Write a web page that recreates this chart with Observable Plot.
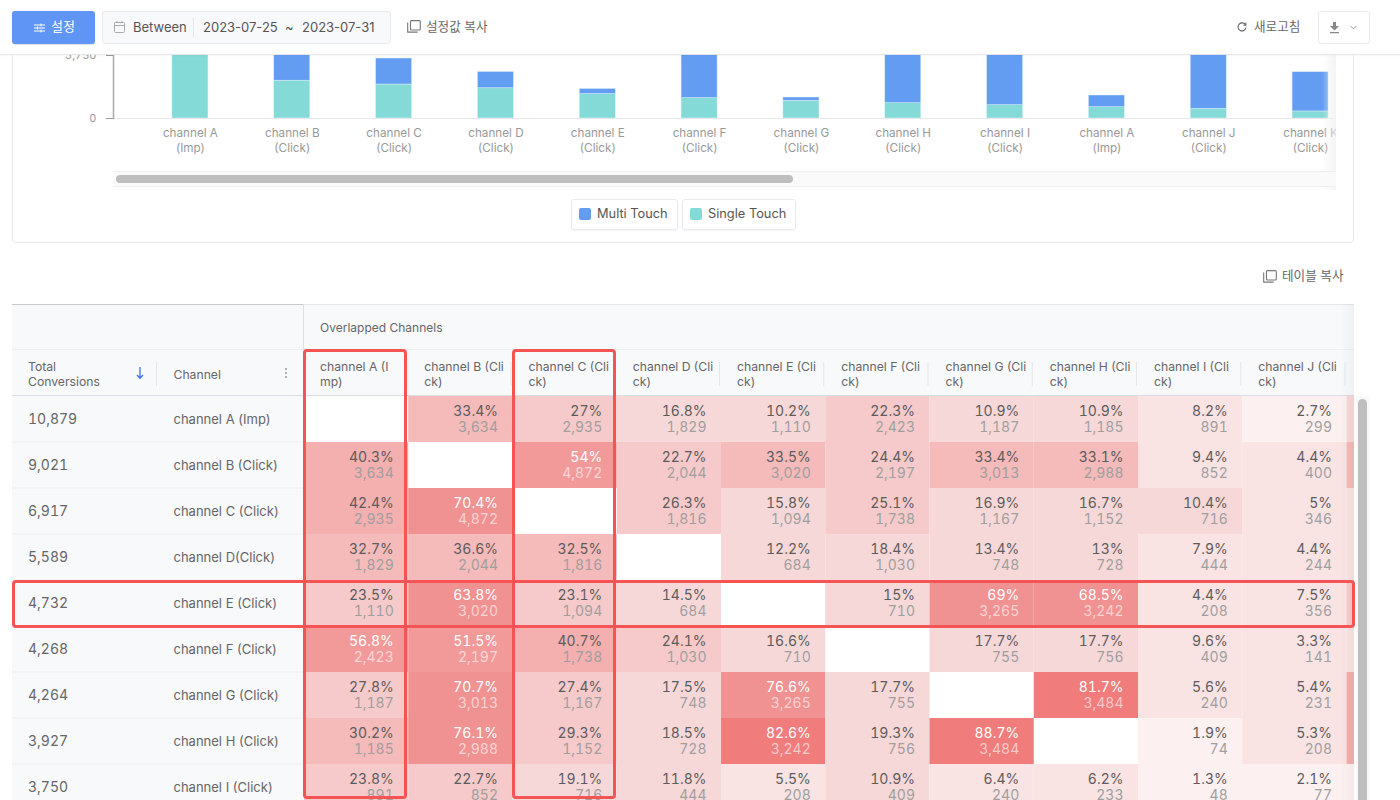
<!DOCTYPE html>
<html lang="ko"><head><meta charset="utf-8">
<script src="https://cdn.jsdelivr.net/npm/d3@7"></script>
<script src="https://cdn.jsdelivr.net/npm/@observablehq/plot@0.6"></script>
<style>
html,body{margin:0;padding:0;background:#fff}
body{font-family:Inter,"Noto Sans CJK KR",sans-serif;color:#555}
#page{position:relative;width:1400px;height:800px;overflow:hidden;background:#fff}
.abs{position:absolute}
svg{background:transparent!important;display:block;overflow:visible;max-width:none!important;height:auto}
#bar{left:0;top:0;width:1336px;height:170px;overflow:hidden}
#heat{left:304px;top:304px;width:1050px;height:496px;overflow:hidden}
#side{left:12px;top:304px;width:292px;height:496px;overflow:hidden}
.frame{position:absolute;box-sizing:border-box;border:3px solid #F55454;border-radius:4px;z-index:5}
.t{position:absolute;white-space:nowrap}
</style></head><body>
<div id="page">
  <div class="abs" style="left:12px;top:20px;width:1342px;height:223px;box-sizing:border-box;border:1px solid #e6e8ec;border-radius:4px"></div>
  <div class="abs" id="bar"></div>
  <div class="abs" style="left:1322px;top:55px;width:14px;height:135px;background:linear-gradient(to right,rgba(255,255,255,0),rgba(240,240,240,.75))"></div>
  <div class="abs" style="left:113px;top:171px;width:1223px;height:14px;background:#fafafa;border-top:1px solid #efefef;border-bottom:1px solid #efefef"></div>
  <div class="abs" style="left:116px;top:175px;width:677px;height:8px;background:#bebebe;border-radius:4px"></div>

  <div class="abs" style="left:571px;top:199px;width:105px;height:29px;border:1px solid #e8eaee;border-radius:3px;box-shadow:0 1px 2px rgba(0,0,0,.05)"></div>
  <div class="abs" style="left:579px;top:208px;width:12px;height:12px;border-radius:2px;background:#639DF2"></div>
  <div class="t" style="left:597px;top:206px;font-size:12.800px;line-height:16px">Multi Touch</div>
  <div class="abs" style="left:682px;top:199px;width:112px;height:29px;border:1px solid #e8eaee;border-radius:3px;box-shadow:0 1px 2px rgba(0,0,0,.05)"></div>
  <div class="abs" style="left:690px;top:208px;width:12px;height:12px;border-radius:2px;background:#84DAD6"></div>
  <div class="t" style="left:708px;top:206px;font-size:12.800px;line-height:16px">Single Touch</div>

  <svg class="abs" style="left:1263px;top:270px" width="14" height="13" viewBox="0 0 14 13" fill="none" stroke="#777" stroke-width="1.1"><rect x="3.5" y=".6" width="9.8" height="9.4" rx="1"/><path d="M.7 2.5v9.6h10"/></svg>
  <div class="t" style="left:1282px;top:268px;font-size:12.600px;line-height:16px;color:#666">테이블 복사</div>

  <!-- table header backdrop -->
  <div class="abs" style="left:12px;top:304px;width:1342px;height:92px;background:#f8f9fb;box-sizing:border-box;border-top:1.5px solid #e4e6ea;border-bottom:1px solid #d8dde3"></div>
  <div class="abs" style="left:12px;top:303.500px;width:292px;height:1.500px;background:#c9c9c9"></div>
  <div class="abs" style="left:12px;top:349px;width:1342px;height:1px;background:#eef0f3"></div>
  <div class="abs" style="left:303px;top:304px;width:1px;height:46px;background:#dcdfe3"></div>
  <div class="abs" style="left:303px;top:362px;width:1051px;height:24px;background-image:linear-gradient(to right,transparent calc(100% - 1px),#e4e6ea 0);background-size:104.25px 24px"></div>
  <div class="abs" style="left:156px;top:362px;width:1px;height:24px;background:#e4e6ea"></div>
  <div class="t" style="left:320px;top:320px;font-size:12px;line-height:15px;color:#666">Overlapped Channels</div>
  <div class="abs" id="side"></div>
  <div class="abs" id="heat"></div>
  <svg class="abs" style="left:135px;top:366px;z-index:2" width="10" height="14" viewBox="0 0 10 14" fill="none" stroke="#3B74E8" stroke-width="1.3"><path d="M5 1v11M2 9l3 3.2L8 9"/></svg>
  <svg class="abs" style="left:284px;top:367px;z-index:2" width="4" height="12" viewBox="0 0 4 12" fill="#999"><circle cx="2" cy="2" r="1"/><circle cx="2" cy="6" r="1"/><circle cx="2" cy="10" r="1"/></svg>
  <div class="abs" style="left:1340px;top:304px;width:14px;height:496px;background:linear-gradient(to right,rgba(0,0,0,0),rgba(0,0,0,.035));z-index:3"></div>

  <div class="abs" style="left:1356px;top:396px;width:14px;height:404px;background:#f9f9f9"></div>
  <div class="abs" style="left:1358px;top:399px;width:9px;height:420px;background:#bebebe;border-radius:5px"></div>

  <div class="frame" style="left:303px;top:349px;width:104px;height:450px"></div>
  <div class="frame" style="left:512px;top:349px;width:104px;height:450px"></div>
  <div class="frame" style="left:12px;top:580px;width:1343px;height:48px"></div>

  <!-- top bar -->
  <div class="abs" style="left:0;top:0;width:1400px;height:55px;background:#fff;border-bottom:1px solid #e4e6ea;box-sizing:border-box;z-index:10;box-shadow:0 1px 2px rgba(0,0,0,.03)">
    <div class="abs" style="left:12px;top:11px;width:83px;height:33px;border-radius:3px;background:#5F95F5;box-shadow:0 1px 1px rgba(0,0,0,.12)"></div>
    <svg class="abs" style="left:34px;top:23px" width="11" height="10" viewBox="0 0 11 10" stroke="#fff" stroke-width="1" fill="none"><path d="M0 2h11M0 5h11M0 8h11M7 .5v3M3.500 3.500v3M7 6.500v3"/></svg>
    <div class="t" style="left:51px;top:18px;font-size:13px;line-height:17px;color:#fff">설정</div>
    <div class="abs" style="left:102px;top:11px;width:289px;height:33px;box-sizing:border-box;border:1px solid #e8eaee;border-radius:3px;background:#f8f9fb"></div>
    <svg class="abs" style="left:114px;top:21px" width="11" height="12" viewBox="0 0 11 12" fill="none" stroke="#aaa"><rect x=".5" y="1.500" width="10" height="10" rx="1"/><path d="M.5 4.500h10M3 0v2M8 0v2"/></svg>
    <div class="t" style="left:133px;top:19px;font-size:13px;line-height:17px">Between</div>
    <div class="abs" style="left:193px;top:18px;width:1px;height:19px;background:#e4e6ea"></div>
    <div class="t" style="left:203px;top:19px;font-size:13px;line-height:17px">2023-07-25</div>
    <div class="t" style="left:285px;top:19px;font-size:13px;line-height:17px">~</div>
    <div class="t" style="left:302px;top:19px;font-size:13px;line-height:17px">2023-07-31</div>
    <svg class="abs" style="left:407px;top:20px" width="14" height="13" viewBox="0 0 14 13" fill="none" stroke="#777" stroke-width="1.1"><rect x="3.500" y=".6" width="9.800" height="9.400" rx="1"/><path d="M.7 2.500v9.600h10"/></svg>
    <div class="t" style="left:426px;top:19px;font-size:12.600px;line-height:16px;color:#666">설정값 복사</div>
    <svg class="abs" style="left:1237px;top:22px" width="10" height="10" viewBox="0 0 10 10" fill="none" stroke="#666" stroke-width="1.1"><path d="M8.600 3A4 4 0 1 0 9 5.500M8.800 .8V3.200H6.400"/></svg>
    <div class="t" style="left:1254px;top:19px;font-size:12.600px;line-height:16px;color:#666">새로고침</div>
    <div class="abs" style="left:1318px;top:11px;width:52px;height:33px;box-sizing:border-box;border:1px solid #e8eaee;border-radius:3px;background:#fff"></div>
    <svg class="abs" style="left:1329px;top:22px" width="11" height="12" viewBox="0 0 11 12" fill="#888"><path d="M4 0h3v4h3L5.500 8.500 1 4h3zM1 10h9v1.300H1z"/></svg>
    <svg class="abs" style="left:1350px;top:25px" width="7" height="5" viewBox="0 0 7 5" fill="none" stroke="#999"><path d="M.5 .8L3.500 3.800 6.500 .8"/></svg>
  </div>
</div>
<script>
const fontFamily = 'Inter,"Noto Sans CJK KR",sans-serif';

// ---- stacked bar chart ----
const barLabels = ["channel A\n(Imp)","channel B\n(Click)","channel C\n(Click)","channel D\n(Click)","channel E\n(Click)","channel F\n(Click)","channel G\n(Click)","channel H\n(Click)","channel I\n(Click)","channel A\n(Imp)","channel J\n(Click)","channel K\n(Click)"];
const singleTouch = [4200,2250,2020,1800,1450,1210,1050,910,790,670,570,420];
const multiTouch  = [1500,1800,1550,970,310,2900,200,3100,3300,700,3500,2340];
const yTicks = [0,3750];
const seriesNames = ["Single Touch","Multi Touch"];
const seriesColors = ["#84DAD6","#639DF2"];

const barRows = barLabels.flatMap((_, i) => [
  {i, series: seriesNames[0], value: singleTouch[i]},
  {i, series: seriesNames[1], value: multiTouch[i]}
]);

document.getElementById("bar").append(Plot.plot({
  width: 1400, height: 160, marginTop: 55, marginBottom: 42, marginLeft: 113, marginRight: 39,
  style: {fontFamily, background: "transparent"},
  x: {type: "band", domain: d3.range(barLabels.length), range: [139, 1361], round: false, paddingInner: 0.646, paddingOuter: 0.323, axis: null},
  y: {domain: [0, 3750], axis: null},
  color: {domain: seriesNames, range: seriesColors},
  marks: [
    Plot.barY(barRows, {x: "i", y: "value", fill: "series", order: seriesNames, stroke: "#dff3f6", strokeWidth: 0.6, strokeOpacity: .8}),
    Plot.ruleY([0], {stroke: "#e8e8e8"}),
    Plot.frame({anchor: "left", stroke: "#a9a9a9", strokeWidth: 1.5}),
    Plot.axisY({ticks: yTicks, tickFormat: d => d3.format(",")(d), tickSize: 7, tickPadding: 10, stroke: "#999", fontSize: 11, fill: "#999", label: null}),
    Plot.axisX({ticks: d3.range(barLabels.length), tickFormat: i => barLabels[i], tickSize: 0, tickPadding: 8, lineHeight: 1.25, fontSize: 11.7, fill: "#999", label: null})
  ]
}));

// ---- overlap table ----
const rowChannels = ["channel A (Imp)","channel B (Click)","channel C (Click)","channel D(Click)","channel E (Click)","channel F (Click)","channel G (Click)","channel H (Click)","channel I (Click)"];
const totalConversions = [10879,9021,6917,5589,4732,4268,4264,3927,3750];
const colKeys = ["A","B","C","D","E","F","G","H","I","J","K"];
const colHeaders = ["channel A (I\nmp)","channel B (Cli\nck)","channel C (Cli\nck)","channel D (Cli\nck)","channel E (Cli\nck)","channel F (Cli\nck)","channel G (Cli\nck)","channel H (Cli\nck)","channel I (Cli\nck)","channel J (Cli\nck)",""];

const pctA = [null,40.3,42.4,32.7,23.5,56.8,27.8,30.2,23.8];
const pctB = [33.4,null,70.4,36.6,63.8,51.5,70.7,76.1,22.7];
const pctC = [27,54,null,32.5,23.1,40.7,27.4,29.3,19.1];
const pctD = [16.8,22.7,26.3,null,14.5,24.1,17.5,18.5,11.8];
const pctE = [10.2,33.5,15.8,12.2,null,16.6,76.6,82.6,5.5];
const pctF = [22.3,24.4,25.1,18.4,15,null,17.7,19.3,10.9];
const pctG = [10.9,33.4,16.9,13.4,69,17.7,null,88.7,6.4];
const pctH = [10.9,33.1,16.7,13,68.5,17.7,81.7,null,6.2];
const pctI = [8.2,9.4,10.4,7.9,4.4,9.6,5.6,1.9,1.3];
const pctJ = [2.7,4.4,5,4.4,7.5,3.3,5.4,5.3,2.1];
const pctK = [11,31,7,6,24,6,44,45,2];

const cntA = [null,3634,2935,1829,1110,2423,1187,1185,891];
const cntB = [3634,null,4872,2044,3020,2197,3013,2988,852];
const cntC = [2935,4872,null,1816,1094,1738,1167,1152,716];
const cntD = [1829,2044,1816,null,684,1030,748,728,444];
const cntE = [1110,3020,1094,684,null,710,3265,3242,208];
const cntF = [2423,2197,1738,1030,710,null,755,756,409];
const cntG = [1187,3013,1167,748,3265,755,null,3484,240];
const cntH = [1185,2988,1152,728,3242,756,3484,null,233];
const cntI = [891,852,716,444,208,409,240,74,48];
const cntJ = [299,400,346,244,356,141,231,208,77];
const cntK = [null,null,null,null,null,null,null,null,null];

const pctCols = [pctA,pctB,pctC,pctD,pctE,pctF,pctG,pctH,pctI,pctJ,pctK];
const cntCols = [cntA,cntB,cntC,cntD,cntE,cntF,cntG,cntH,cntI,cntJ,cntK];
const heatThresholds = [3,10,20,30,40,50,60,80];
const heatColors = ["#FDF0F0","#F9E3E3","#F7D8D8","#F6CACA","#F5BABA","#F4AFAF","#F29A9A","#F19292","#F07C7C"];

const cells = colKeys.flatMap((col, c) => rowChannels.map((row, r) => ({col, row, pct: pctCols[c][r], cnt: cntCols[c][r]})))
  .filter(d => d.pct != null);
const labelled = cells.filter(d => d.cnt != null);
const light = labelled.filter(d => d.pct >= 50);
const dark = labelled.filter(d => d.pct < 50);
const pctText = d => `${d.pct}%`;
const cntText = d => d3.format(",")(d.cnt);
const bw = 104.25, textDx = bw / 2 - 15;
const tabular = {fontVariant: "tabular-nums"};

document.getElementById("heat").append(Plot.plot({
  width: bw * colKeys.length, height: 92 + 46 * rowChannels.length,
  marginTop: 92, marginBottom: 0, marginLeft: 0, marginRight: 0,
  style: {fontFamily, background: "transparent"},
  x: {domain: colKeys, padding: 0, round: false, axis: null},
  y: {domain: rowChannels, padding: 0, axis: null},
  color: {type: "threshold", domain: heatThresholds, range: heatColors},
  marks: [
    Plot.cell(cells, {x: "col", y: "row", fill: "pct"}),
    Plot.text(dark, {x: "col", y: "row", text: pctText, textAnchor: "end", dx: textDx, dy: -8, fontSize: 14, fill: "#5c5c5c", ...tabular}),
    Plot.text(dark, {x: "col", y: "row", text: cntText, textAnchor: "end", dx: textDx, dy: 8, fontSize: 14, fill: "#9f9f9f", ...tabular}),
    Plot.text(light, {x: "col", y: "row", text: pctText, textAnchor: "end", dx: textDx, dy: -8, fontSize: 14, fill: "#fff", ...tabular}),
    Plot.text(light, {x: "col", y: "row", text: cntText, textAnchor: "end", dx: textDx, dy: 8, fontSize: 14, fill: "#fff", fillOpacity: .6, ...tabular}),
    Plot.axisX({anchor: "top", ticks: colKeys, tickFormat: k => colHeaders[colKeys.indexOf(k)], tickSize: 0, tickPadding: 11, textAnchor: "start", dx: -bw / 2 + 15.5, lineHeight: 1.2, fontSize: 12.2, fill: "#666", label: null})
  ]
}));

const sideCols = ["total","channel"];
document.getElementById("side").append(Plot.plot({
  width: 292, height: 92 + 46 * rowChannels.length,
  marginTop: 92, marginBottom: 0, marginLeft: 0, marginRight: 0,
  style: {fontFamily, background: "transparent"},
  x: {domain: sideCols, padding: 0, axis: null},
  y: {domain: rowChannels, padding: 0, axis: null},
  marks: [
    Plot.cell(rowChannels.flatMap(row => sideCols.map(c => ({row, c}))), {x: "c", y: "row", fill: "#f8f9fb"}),
    Plot.ruleY(rowChannels, {y: d => d, dy: 22.5, stroke: "#eceef1"}),
    Plot.text(rowChannels, {x: () => "total", y: d => d, text: (d, i) => d3.format(",")(totalConversions[i]), textAnchor: "start", dx: -57.5, fontSize: 14, fill: "#666", ...tabular}),
    Plot.text(rowChannels, {x: () => "channel", y: d => d, text: d => d, textAnchor: "start", dx: -58, fontSize: 13, fill: "#666"}),
    Plot.axisX({anchor: "top", ticks: ["total"], tickFormat: () => "Total\nConversions", tickSize: 0, tickPadding: 11, textAnchor: "start", dx: -57.5, lineHeight: 1.2, fontSize: 12.2, fill: "#666", label: null}),
    Plot.axisX({anchor: "top", ticks: ["channel"], tickFormat: () => "Channel", tickSize: 0, tickPadding: 18, textAnchor: "start", dx: -58, fontSize: 12.2, fill: "#666", label: null})
  ]
}));
</script>
</body></html>
